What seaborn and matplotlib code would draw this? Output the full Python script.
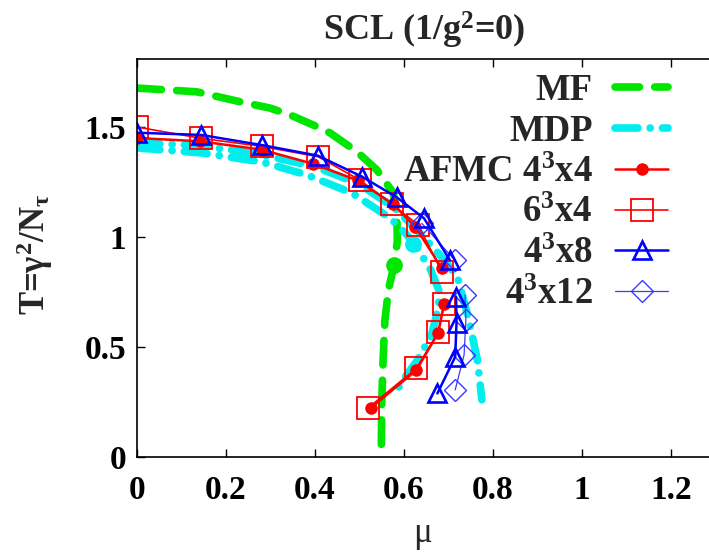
import numpy as np
import matplotlib
matplotlib.use("Agg")
import matplotlib.pyplot as plt
from matplotlib.lines import Line2D
import seaborn as sns

# MF (mean field) phase boundary
mf_mu = [0.0, 0.134, 0.231, 0.299, 0.344, 0.396, 0.434, 0.494, 0.539, 0.576,
         0.584, 0.585, 0.578, 0.565, 0.557, 0.553, 0.550, 0.549]
mf_T = [1.677, 1.660, 1.615, 1.586, 1.555, 1.509, 1.473, 1.388, 1.305, 1.200,
        1.092, 0.980, 0.875, 0.760, 0.620, 0.440, 0.250, 0.040]
mf_tcp = (0.578, 0.875)

# MDP boundaries (two curves)
mdp1_mu = [0.0, 0.10, 0.20, 0.30, 0.40, 0.50, 0.58, 0.63, 0.68, 0.72, 0.745, 0.765, 0.775]
mdp1_T = [1.427, 1.420, 1.400, 1.365, 1.320, 1.240, 1.130, 1.030, 0.920, 0.820, 0.630, 0.440, 0.260]
mdp2_mu = [0.0, 0.146, 0.281, 0.382, 0.483, 0.569, 0.607, 0.628, 0.660, 0.681,
           0.675, 0.662, 0.630, 0.598, 0.580]
mdp2_T = [1.405, 1.382, 1.341, 1.282, 1.200, 1.086, 1.009, 0.956, 0.850, 0.745,
          0.660, 0.555, 0.440, 0.350, 0.290]
mdp_tcp = (0.62, 0.97)

# AFMC 4^3x4
a44_up_mu = [0.0, 0.142, 0.280, 0.395, 0.496, 0.575, 0.625, 0.685]
a44_up_T = [1.450, 1.435, 1.397, 1.333, 1.257, 1.150, 1.047, 0.858]
a44_lo_mu = [0.690, 0.677, 0.628, 0.526]
a44_lo_T = [0.695, 0.565, 0.395, 0.224]

# AFMC 6^3x4
a64_up_mu = [0.0, 0.143, 0.280, 0.407, 0.500, 0.572, 0.632, 0.685]
a64_up_T = [1.500, 1.449, 1.412, 1.365, 1.260, 1.150, 1.055, 0.842]
a64_lo_mu = [0.690, 0.677, 0.628, 0.520]
a64_lo_T = [0.695, 0.567, 0.403, 0.224]

# AFMC 4^3x8
a48_up_mu = [0.0, 0.144, 0.280, 0.406, 0.506, 0.584, 0.645, 0.703]
a48_up_T = [1.474, 1.464, 1.418, 1.370, 1.274, 1.180, 1.085, 0.895]
a48_lo_mu = [0.717, 0.718, 0.715, 0.675]
a48_lo_T = [0.729, 0.610, 0.455, 0.289]

# AFMC 4^3x12
a412_up_mu = [0.640, 0.714]
a412_up_T = [1.062, 0.895]
a412_lo_mu = [0.737, 0.739, 0.735, 0.715]
a412_lo_T = [0.736, 0.622, 0.464, 0.305]

x_ticks = [0, 0.2, 0.4, 0.6, 0.8, 1, 1.2]
y_ticks = [0, 0.5, 1, 1.5]

sns.set_style("ticks")
plt.rcParams["font.family"] = ["Liberation Serif", "DejaVu Serif"]
plt.rcParams["font.weight"] = "bold"
plt.rcParams["mathtext.fontset"] = "custom"
plt.rcParams["mathtext.rm"] = "Liberation Serif:bold"
plt.rcParams["mathtext.it"] = "Liberation Serif:bold"
plt.rcParams["mathtext.bf"] = "Liberation Serif:bold"

GREEN = "#00e600"
CYAN = "#00eeee"
RED = "#ff0000"
BLUE = "#0000ff"
LBLUE = "#3a3aff"

fig = plt.figure(figsize=(7.09, 5.56), dpi=100)
ax = fig.add_axes([137 / 709, 1 - 457 / 556, 1 - 137 / 709, (457 - 59) / 556])

mf_style = dict(color=GREEN, linewidth=5.5, linestyle=(0, (3.2, 2.0)),
                dash_capstyle="round")
mdp_style = dict(color=CYAN, linewidth=5.5, linestyle=(0, (3.0, 1.6, 0.01, 1.6)),
                 dash_capstyle="round")

sns.lineplot(x=mf_mu, y=mf_T, sort=False, estimator=None, ax=ax, **mf_style)
sns.lineplot(x=mdp1_mu, y=mdp1_T, sort=False, estimator=None, ax=ax, **mdp_style)
sns.lineplot(x=mdp2_mu, y=mdp2_T, sort=False, estimator=None, ax=ax, **mdp_style)
ax.plot([mf_tcp[0]], [mf_tcp[1]], "o", color=GREEN, markersize=11)
ax.plot([mdp_tcp[0]], [mdp_tcp[1]], "o", color=CYAN, markersize=11)

s44 = dict(color=RED, linewidth=1.8, marker="o", markersize=8,
           markerfacecolor=RED, markeredgecolor=RED, markeredgewidth=1)
s64 = dict(color=RED, linewidth=1.2, marker="s", markersize=16,
           markerfacecolor="none", markeredgecolor=RED, markeredgewidth=1.3)
s48 = dict(color=BLUE, linewidth=1.8, marker="^", markersize=13,
           markerfacecolor="none", markeredgecolor=BLUE, markeredgewidth=1.9)
s412 = dict(color=LBLUE, linewidth=0.9, marker="D", markersize=11,
            markerfacecolor="none", markeredgecolor=LBLUE, markeredgewidth=1.0)

for mu, T, st in [(a64_up_mu, a64_up_T, s64), (a64_lo_mu, a64_lo_T, s64),
                  (a44_up_mu, a44_up_T, s44), (a44_lo_mu, a44_lo_T, s44),
                  (a412_up_mu, a412_up_T, s412), (a412_lo_mu, a412_lo_T, s412),
                  (a48_up_mu, a48_up_T, s48), (a48_lo_mu, a48_lo_T, s48)]:
    sns.lineplot(x=mu, y=T, sort=False, estimator=None, ax=ax, **st)

ax.set_xlim(0, (709 - 137) / 445)
ax.set_ylim(0, (457 - 59) / 220)
ax.set_xticks(x_ticks)
ax.set_xticklabels(["0", "0.2", "0.4", "0.6", "0.8", "1", "1.2"])
ax.set_yticks(y_ticks)
ax.set_yticklabels(["0", "0.5", "1", "1.5"])
ax.tick_params(direction="in", length=6, width=1, top=True, right=False,
               labelsize=24, colors="black")
ax.tick_params(axis="x", pad=13)
ax.tick_params(axis="y", pad=8)
for lab in ax.get_xticklabels() + ax.get_yticklabels():
    lab.set_fontweight("bold")
ax.spines["right"].set_visible(False)
for sp in ["left", "bottom", "top"]:
    ax.spines[sp].set_linewidth(1.2)
    ax.spines[sp].set_color("black")

ax.set_xlabel("μ", fontsize=25, fontweight="normal", labelpad=8)
ax.set_ylabel(r"T=$\gamma^{2}$/N$_{\tau}$", fontsize=25, fontweight="bold")
ax.yaxis.set_label_coords((55 - 137) / 572, (457 - 254) / 398)
fig.text(424 / 709, 1 - 30 / 556, r"SCL (1/g$^{2}$=0)", fontsize=26,
         fontweight="bold", ha="center", va="center")

handles = [
    Line2D([], [], **mf_style),
    Line2D([], [], **mdp_style),
    Line2D([], [], **s44),
    Line2D([], [], **s64),
    Line2D([], [], **s48),
    Line2D([], [], **s412),
]
labels = ["MF", "MDP", r"AFMC 4$^{3}$x4", r"6$^{3}$x4", r"4$^{3}$x8", r"4$^{3}$x12"]
leg = ax.legend(handles, labels, loc="upper right", bbox_to_anchor=(694 / 709, 1 - 47 / 556),
                bbox_transform=fig.transFigure, frameon=False, markerfirst=False,
                fontsize=26.5, handlelength=1.45, handletextpad=0.6, labelspacing=0.16,
                borderpad=0.2)
for t in leg.get_texts():
    t.set_ha("right")
    t.set_fontweight("bold")
leg._legend_box.align = "right"

fig.savefig("out.png", dpi=100)
